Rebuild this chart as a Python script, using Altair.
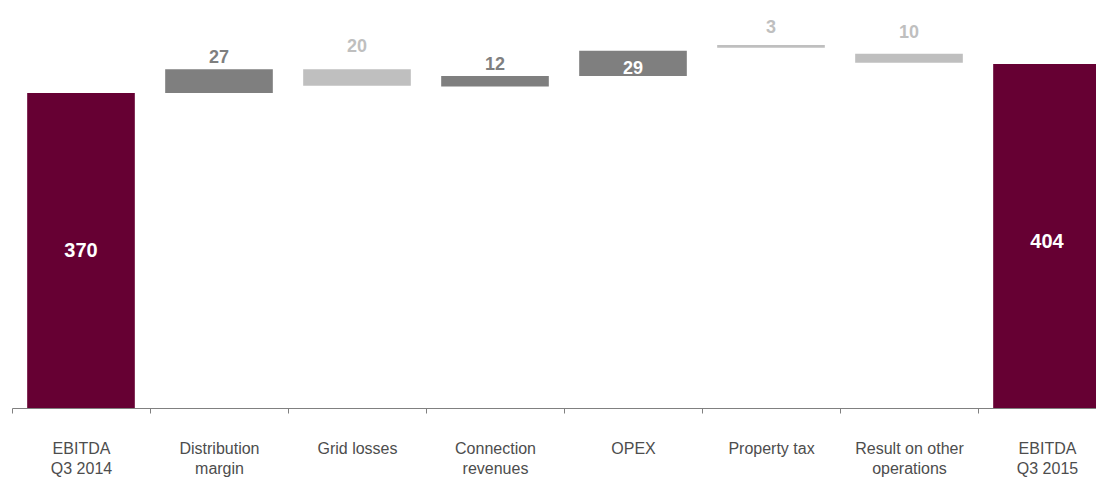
import altair as alt
import pandas as pd

# ---- data ----
categories = [
    "EBITDA\nQ3 2014", "Distribution\nmargin", "Grid losses", "Connection\nrevenues",
    "OPEX", "Property tax", "Result on other\noperations", "EBITDA\nQ3 2015",
]
values = [370, 27, 20, 12, 29, 3, 10, 404]
kinds = ["total", "increase", "decrease", "increase", "increase", "decrease", "decrease", "total"]
# bar bottoms / tops (as drawn)
bar_low = [0, 370, 378.5, 377.5, 390, 423, 405.5, 0]
bar_high = [370, 398, 398, 390, 419.5, 426.5, 416, 404]

# ---- styling ----
STEP_RANGE = 1104          # band range (extends a little past the visible page)
W, H = 1084, 400
PX_PER_UNIT = 0.8514
YMAX = H / PX_PER_UNIT
kind_colors = {"total": "#660033", "increase": "#7f7f7f", "decrease": "#bfbfbf"}
FONT = "Liberation Sans"
label_offset = {0: 7, 1: -6, 2: -17, 3: -6, 4: 23, 5: -12, 6: -16, 7: 12}
label_color = {0: "white", 1: "#7f7f7f", 2: "#bfbfbf", 3: "#7f7f7f",
               4: "white", 5: "#bfbfbf", 6: "#bfbfbf", 7: "white"}
label_size = {0: 20, 7: 20}

rows = []
for i, c in enumerate(categories):
    lo, hi = bar_low[i], bar_high[i]
    anchor = (lo + hi) / 2 if kinds[i] == "total" else max(lo, hi)
    rows.append({
        "cat": c, "value": values[i], "kind": kinds[i], "lo": lo, "hi": hi,
        "color": kind_colors[kinds[i]],
        "label_y": anchor - label_offset[i] / PX_PER_UNIT,
        "label_color": label_color[i],
        "size": label_size.get(i, 18),
    })
df = pd.DataFrame(rows)

xscale = alt.Scale(range=[0, STEP_RANGE], paddingInner=0, paddingOuter=0)
x = alt.X(
    "cat:N", sort=categories, title=None, scale=xscale,
    axis=alt.Axis(
        labelAngle=0, labelFont=FONT, labelFontSize=16, labelColor="#4d4d4d",
        labelLineHeight=20, labelPadding=27, tickSize=5, tickColor="#808080",
        domainColor="#808080", tickBand="extent", labelExpr="split(datum.label, '\\n')",
    ),
)
yscale = alt.Scale(domain=[0, YMAX], nice=False, zero=True)

bars = alt.Chart(df).mark_bar(width=alt.RelativeBandSize(0.78)).encode(
    x=x,
    y=alt.Y("lo:Q", scale=yscale, axis=None),
    y2="hi:Q",
    color=alt.Color("color:N", scale=None),
)

labels = alt.Chart(df).mark_text(font=FONT, fontWeight="bold", baseline="alphabetic").encode(
    x=alt.X("cat:N", sort=categories, scale=xscale),
    y=alt.Y("label_y:Q", scale=yscale),
    text="value:Q",
    color=alt.Color("label_color:N", scale=None),
    size=alt.Size("size:Q", scale=None),
)

chart = (bars + labels).properties(
    width=W, height=H,
    autosize=alt.AutoSizeParams(type="none"),
    padding={"left": 4, "top": 0, "right": 0, "bottom": 69},
).configure_view(stroke=None)

chart.save("out.html", embed_options={"renderer": "svg", "actions": False})
